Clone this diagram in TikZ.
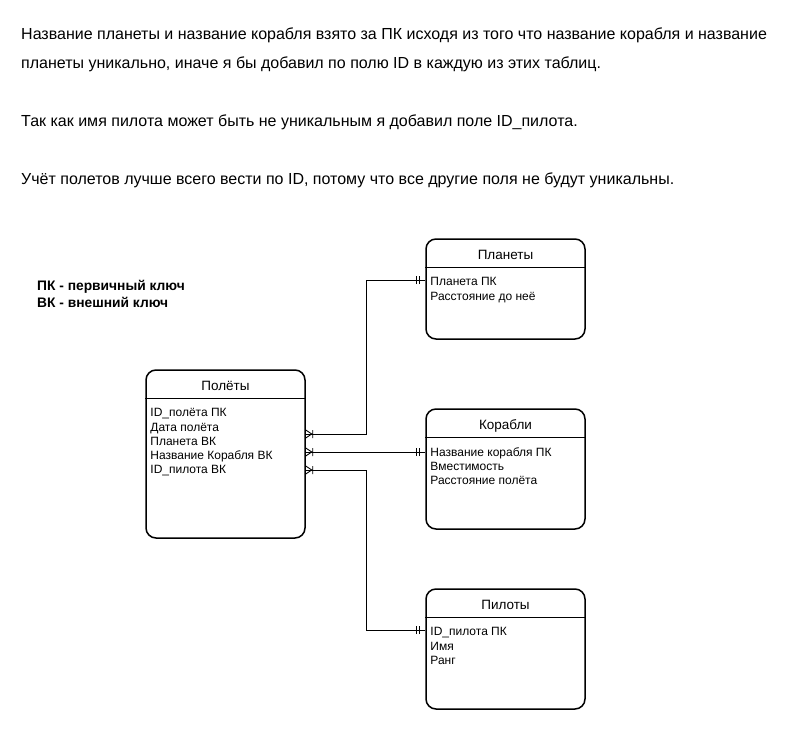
\documentclass[tikz,border=0pt]{standalone}
\usepackage{fontspec}
\setmainfont{Liberation Sans}
\usetikzlibrary{positioning,decorations.markings}

\tikzset{
  tbl/.style={draw, line width=1.5pt, rounded corners=10pt, minimum width=159pt},
  ttl/.style={font=\fontsize{13.5}{15}\selectfont, inner sep=0pt, anchor=base},
  fld/.style={font=\fontsize{12}{14.3}\selectfont, align=left, inner sep=0pt, anchor=north west},
  note/.style={font=\fontsize{16}{18}\selectfont, inner sep=0pt, anchor=base west},
  key/.style={font=\fontsize{13.8}{17}\selectfont\bfseries, align=left, inner sep=0pt, anchor=base west},
  conn/.style={line width=0.9pt},
  mandone/.style={postaction={decorate, decoration={markings,
     mark=at position -6pt with {\draw[line width=0.9pt] (0,-4pt) -- (0,4pt);},
     mark=at position -9pt with {\draw[line width=0.9pt] (0,-4pt) -- (0,4pt);}}}},
  onemany/.style={postaction={decorate, decoration={markings,
     mark=at position 0.01pt with {\draw[line width=0.9pt] (0,4pt) -- (6pt,0) -- (0,-4pt) (7pt,-4pt) -- (7pt,4pt);}}}},
}

\begin{document}
\begin{tikzpicture}[x=1pt, y=-1pt]
  \useasboundingbox (0,0) rectangle (800,730);

  % notes
  \node[note] (n1) at (21,40) {Название планеты и название корабля взято за ПК исходя из того что название корабля и название};
  \node[note] (n2) at (21,69) {планеты уникально, иначе я бы добавил по полю ID в каждую из этих таблиц.};
  \node[note] (n3) at (21,127) {Так как имя пилота может быть не уникальным я добавил поле ID\_пилота.};
  \node[note] (n4) at (21,185) {Учёт полетов лучше всего вести по ID, потому что все другие поля не будут уникальны.};
  \node[key] (keys) at (37,307) {ПК - первичный ключ\\ВК - внешний ключ};

  % tables
  \node[tbl, minimum height=168pt] (flights) at (225.5,454) {};
  \node[tbl, minimum height=100pt] (planets) at (505.5,289) {};
  \node[tbl, minimum height=120pt] (ships) at (505.5,469) {};
  \node[tbl, minimum height=120pt] (pilots) at (505.5,649) {};

  \draw[line width=1.5pt] ([yshift=-29pt]flights.north west) -- ([yshift=-29pt]flights.north east);
  \draw[line width=1.5pt] ([yshift=-29pt]planets.north west) -- ([yshift=-29pt]planets.north east);
  \draw[line width=1.5pt] ([yshift=-29pt]ships.north west) -- ([yshift=-29pt]ships.north east);
  \draw[line width=1.5pt] ([yshift=-29pt]pilots.north west) -- ([yshift=-29pt]pilots.north east);

  \node[ttl] (flights-t) at ([yshift=-21pt]flights.north) {Полёты};
  \node[ttl] (planets-t) at ([yshift=-21pt]planets.north) {Планеты};
  \node[ttl] (ships-t) at ([yshift=-21pt]ships.north) {Корабли};
  \node[ttl] (pilots-t) at ([yshift=-21pt]pilots.north) {Пилоты};

  \node[fld] (flights-f) at ([xshift=5pt,yshift=-39pt]flights.north west) {ID\_полёта ПК\\Дата полёта\\Планета ВК\\Название Корабля ВК\\ID\_пилота ВК};
  \node[fld] (planets-f) at ([xshift=5pt,yshift=-39pt]planets.north west) {Планета ПК\\Расстояние до неё};
  \node[fld] (ships-f) at ([xshift=5pt,yshift=-39pt]ships.north west) {Название корабля ПК\\Вместимость\\Расстояние полёта};
  \node[fld] (pilots-f) at ([xshift=5pt,yshift=-39pt]pilots.north west) {ID\_пилота ПК\\Имя\\Ранг};

  % connectors
  \coordinate (fpl) at ([yshift=20pt]flights.east);
  \coordinate (fsh) at ([yshift=2pt]flights.east);
  \coordinate (fpi) at ([yshift=-16pt]flights.east);
  \coordinate (ppl) at ([yshift=9pt]planets.west);
  \coordinate (ssh) at ([yshift=17pt]ships.west);
  \coordinate (ppi) at ([yshift=19pt]pilots.west);
  \coordinate (bend) at (366,0);

  \draw[conn, onemany, mandone] (fpl) -- (fpl -| bend) |- (ppl);
  \draw[conn, onemany, mandone] (fsh) -- (ssh);
  \draw[conn, onemany, mandone] (fpi) -- (fpi -| bend) |- (ppi);
\end{tikzpicture}
\end{document}
